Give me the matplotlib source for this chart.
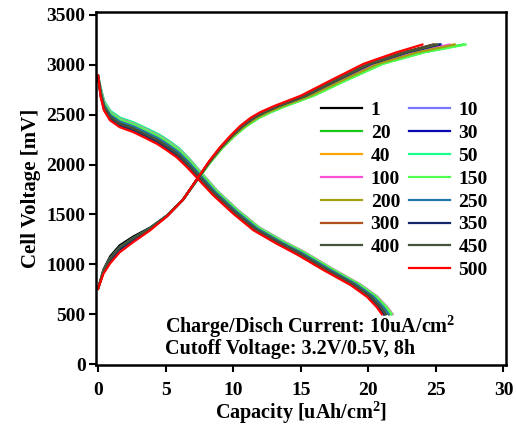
import matplotlib
matplotlib.use("Agg")
import matplotlib.pyplot as plt
import numpy as np

plt.rcParams['font.family'] = ['Liberation Serif', 'DejaVu Serif']
plt.rcParams['font.weight'] = 'bold'
plt.rcParams['mathtext.fontset'] = 'custom'
plt.rcParams['mathtext.rm'] = 'Liberation Serif:bold'
plt.rcParams['mathtext.bf'] = 'Liberation Serif:bold'

# cycle numbers and colours
cycles = ['1', '10', '20', '30', '40', '50', '100', '150', '200', '250',
          '300', '350', '400', '450', '500']
colors = ['#000000', '#7878ff', '#18c818', '#0808b0', '#ffa500', '#18ff8c',
          '#ff50d8', '#50ff50', '#a0a010', '#1f78aa', '#b0501a', '#14286e',
          '#44543a', '#44543a', '#ff0000']

# discharge curve of cycle 500 (red)
dis_cap = [0, 0.2, 0.44, 0.9, 1.6, 2.6, 3.6, 4.4, 5.1, 5.8, 6.5, 7.3, 8.5,
           10.0, 11.5, 13.2, 14.7, 16.7, 18.7, 19.9, 20.6, 21.0]
dis_volt = [2893, 2676, 2543, 2442, 2375, 2326, 2260, 2205, 2142, 2075, 1985,
            1870, 1695, 1508, 1341, 1208, 1100, 941, 791, 674, 574, 500]
dis_w = [0, 1, 1, 1, 1, 1, 1, 1, 1, 0.95, 0.85, 0.7, 0.5, 0.4, 0.35, 0.3,
         0.3, 0.2, 0.1, 0.05, 0, 0]

# charge curve of cycle 500 (red)
chg_cap = [0, 0.4, 0.9, 1.6, 2.6, 3.85, 5.1, 6.3, 7.3, 8.2, 9.0, 9.8, 10.5,
           11.3, 12.0, 13.0, 15.0, 17.2, 19.65, 22.1, 24.0]
chg_volt = [755, 905, 1010, 1120, 1222, 1340, 1480, 1650, 1850, 2030, 2170,
            2290, 2385, 2470, 2525, 2585, 2690, 2843, 3010, 3126, 3203]
chg_wv = [0, 0.6, 1, 1, 0.8, 0.4, 0.15, 0, 0, 0, 0, 0, 0, 0, 0, 0, 0, 0, 0,
          0, 0]
chg_wx = [0, 0, 0, 0, 0, 0, 0, 0, 0.02, 0.05, 0.07, 0.1, 0.15, 0.2, 0.25,
          0.27, 0.3, 0.36, 0.45, 0.65, 1.0]

dis_end = [21.1, 21.6, 21.7, 21.15, 21.6, 21.7, 21.8, 21.75, 21.5, 21.5,
           21.2, 21.2, 21.3, 21.3, 21.0]
dis_off = [15, 85, 70, 20, 60, 95, 80, 75, 50, 55, 10, 20, 35, 35, 0]
chg_end = [24.8, 25.4, 27.0, 25.3, 26.3, 27.1, 26.0, 27.2, 26.4, 25.2,
           24.9, 25.3, 25.0, 25.1, 24.0]
chg_off = [70, 50, 40, 40, 30, 50, 30, 40, 30, 40, 20, 30, 50, 50, 0]

fig = plt.figure(figsize=(5.16, 4.26), dpi=100)
ax = fig.add_axes([0.186, 0.143, 0.795, 0.829])

dc = np.array(dis_cap); dv = np.array(dis_volt); dw = np.array(dis_w)
cc = np.array(chg_cap); cv = np.array(chg_volt)
cwv = np.array(chg_wv); cwx = np.array(chg_wx)

for i, lab in enumerate(cycles):
    x = dc * dis_end[i] / dis_cap[-1]
    y = dv + dis_off[i] * dw
    ax.plot(x, y, color=colors[i], lw=1.6, label=lab)
    x = cc + (chg_end[i] - chg_cap[-1]) * cwx
    y = cv + chg_off[i] * cwv
    ax.plot(x, y, color=colors[i], lw=1.6)

ax.set_xlim(-0.15, 30.2)
ax.set_ylim(-10, 3530)
ax.set_xticks(range(0, 31, 5))
ax.set_yticks(range(0, 3501, 500))
ax.tick_params(direction='out', length=5, width=1.5, labelsize=14)
ax.tick_params(axis='x', pad=7)
ax.tick_params(axis='y', pad=2.5)
for s in ax.spines.values():
    s.set_linewidth(1.8)

ax.set_xlabel('Capacity [uAh/cm$^2$]', fontsize=14.5, fontweight='bold', labelpad=0)
ax.set_ylabel('Cell Voltage [mV]', fontsize=15, fontweight='bold', labelpad=4)

ax.text(4.95, 380, 'Charge/Disch Current: 10uA/cm$^2$', fontsize=14.5,
        fontweight='bold', va='center')
ax.text(4.95, 150, 'Cutoff Voltage: 3.2V/0.5V, 8h', fontsize=14.5,
        fontweight='bold', va='center')

h, l = ax.get_legend_handles_labels()
blank = plt.Line2D([], [], color='none')
order = [0, 2, 4, 6, 8, 10, 12]
order2 = [1, 3, 5, 7, 9, 11, 13, 14]
hh = [h[k] for k in order] + [blank] + [h[k] for k in order2]
ll = [l[k] for k in order] + [''] + [l[k] for k in order2]
ax.legend(hh, ll, ncol=2, loc='upper left', bbox_to_anchor=(0.525, 0.774),
          frameon=False, fontsize=14, handlelength=2.1, handletextpad=0.45,
          columnspacing=0.45, labelspacing=0.27, borderpad=0)

fig.savefig('out.png', dpi=100)
